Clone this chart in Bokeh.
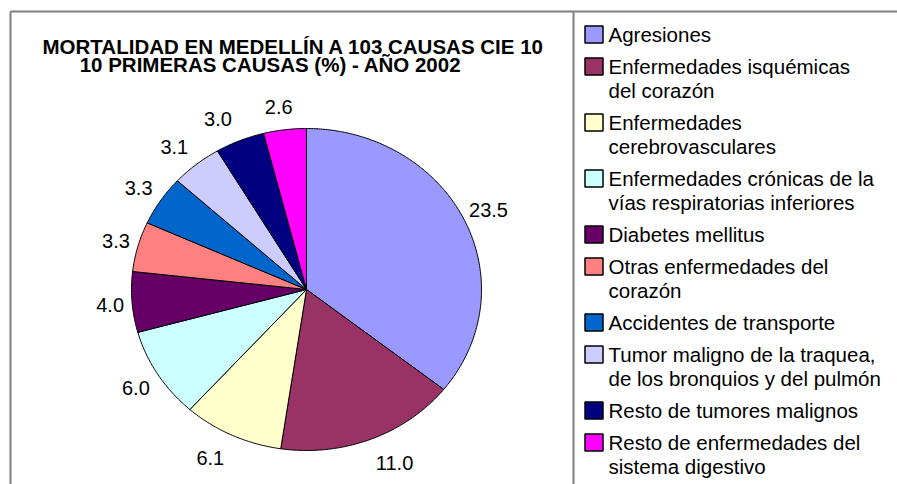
import math
from bokeh.plotting import figure
from bokeh.models import Range1d
from bokeh.embed import file_html
from bokeh.resources import INLINE
from bokeh.core.properties import value

# ---------------- data ----------------
title_lines = ["MORTALIDAD EN MEDELLÍN A 103 CAUSAS CIE 10",
               "10 PRIMERAS CAUSAS (%) - AÑO 2002"]
causes = [
    "Agresiones",
    "Enfermedades isquémicas\ndel corazón",
    "Enfermedades\ncerebrovasculares",
    "Enfermedades crónicas de la\nvías respiratorias inferiores",
    "Diabetes mellitus",
    "Otras enfermedades del\ncorazón",
    "Accidentes de transporte",
    "Tumor maligno de la traquea,\nde los bronquios y del pulmón",
    "Resto de tumores malignos",
    "Resto de enfermedades del\nsistema digestivo",
]
percent = [23.5, 11.0, 6.1, 6.0, 4.0, 3.3, 3.3, 3.1, 3.0, 2.6]
colors = ["#9999FF", "#993366", "#FFFFCC", "#CCFFFF", "#660066",
          "#FF8080", "#0066CC", "#CCCCFF", "#000080", "#FF00FF"]

# ---------------- layout ----------------
W, H = 897, 484
FONT = value("Liberation Sans")
p = figure(width=W, height=H, x_range=Range1d(0, W), y_range=Range1d(H, 0),
           output_backend="svg", toolbar_location=None, min_border=0,
           x_axis_type=None, y_axis_type=None)
p.grid.visible = False
p.outline_line_color = None
p.background_fill_color = "white"
p.border_fill_color = "white"

# frame lines (chart area and legend box)
p.segment(x0=[10, 10, 573], y0=[11, 11, 11], x1=[10, W, 573], y1=[H, 11, H],
          line_color="#808080", line_width=2)

# title
p.text(x=[293], y=[46], text=[title_lines[0]], text_align="center",
       text_baseline="alphabetic", text_font=FONT, text_font_size="20.5px",
       text_font_style="bold", text_color="black")
p.text(x=[270], y=[64], text=[title_lines[1]], text_align="center",
       text_baseline="alphabetic", text_font=FONT, text_font_size="20.5px",
       text_font_style="bold", text_color="black")

# pie (slightly elliptical, as in the reference)
cx, cy, rx, ry = 306, 289, 175, 161
total = sum(percent)
xs, ys = [], []
labels = {"left": ([], [], []), "right": ([], [], []), "center": ([], [], [])}
acc = 0.0
for v in percent:
    a0 = acc / total * 2 * math.pi
    acc += v
    a1 = acc / total * 2 * math.pi
    n = max(10, int((a1 - a0) / 0.01))
    px = [cx] + [cx + rx * math.sin(a0 + (a1 - a0) * i / n) for i in range(n + 1)]
    py = [cy] + [cy - ry * math.cos(a0 + (a1 - a0) * i / n) for i in range(n + 1)]
    xs.append(px)
    ys.append(py)
    m = (a0 + a1) / 2
    sx, uy = math.sin(m), -math.cos(m)
    ex, ey = cx + rx * sx, cy + ry * uy
    ly = ey + 24 * uy + 1
    if sx > 0.25:
        key, lx = "left", ex + 5
    elif sx < -0.25:
        key, lx = "right", ex - 8
    else:
        key, lx = "center", ex + sx * 50
    labels[key][0].append(lx)
    labels[key][1].append(ly)
    labels[key][2].append(f"{v:.1f}")

p.patches(xs, ys, fill_color=colors, line_color="black", line_width=1)

for align, (lx, ly, lt) in labels.items():
    if lx:
        p.text(x=lx, y=ly, text=lt, text_align=align, text_baseline="middle",
               text_font=FONT, text_font_size="20px", text_color="black")

# legend
sw_x, tx_x = 593.5, 608
y0, step, line_h = 34, 32, 24
sw_y, t_x, t_y, t_txt = [], [], [], []
y = y0
for c in causes:
    parts = c.split("\n")
    sw_y.append(y)
    for i, part in enumerate(parts):
        t_x.append(tx_x)
        t_y.append(y + i * line_h)
        t_txt.append(part)
    y += step + line_h * (len(parts) - 1)

p.rect(x=[sw_x] * len(causes), y=sw_y, width=18, height=17, fill_color=colors,
       line_color="black", line_width=1.5)
p.text(x=t_x, y=t_y, text=t_txt, text_align="left", text_baseline="middle",
       text_font=FONT, text_font_size="20.5px", text_color="black")

open("out.html", "w").write(file_html(p, INLINE))
